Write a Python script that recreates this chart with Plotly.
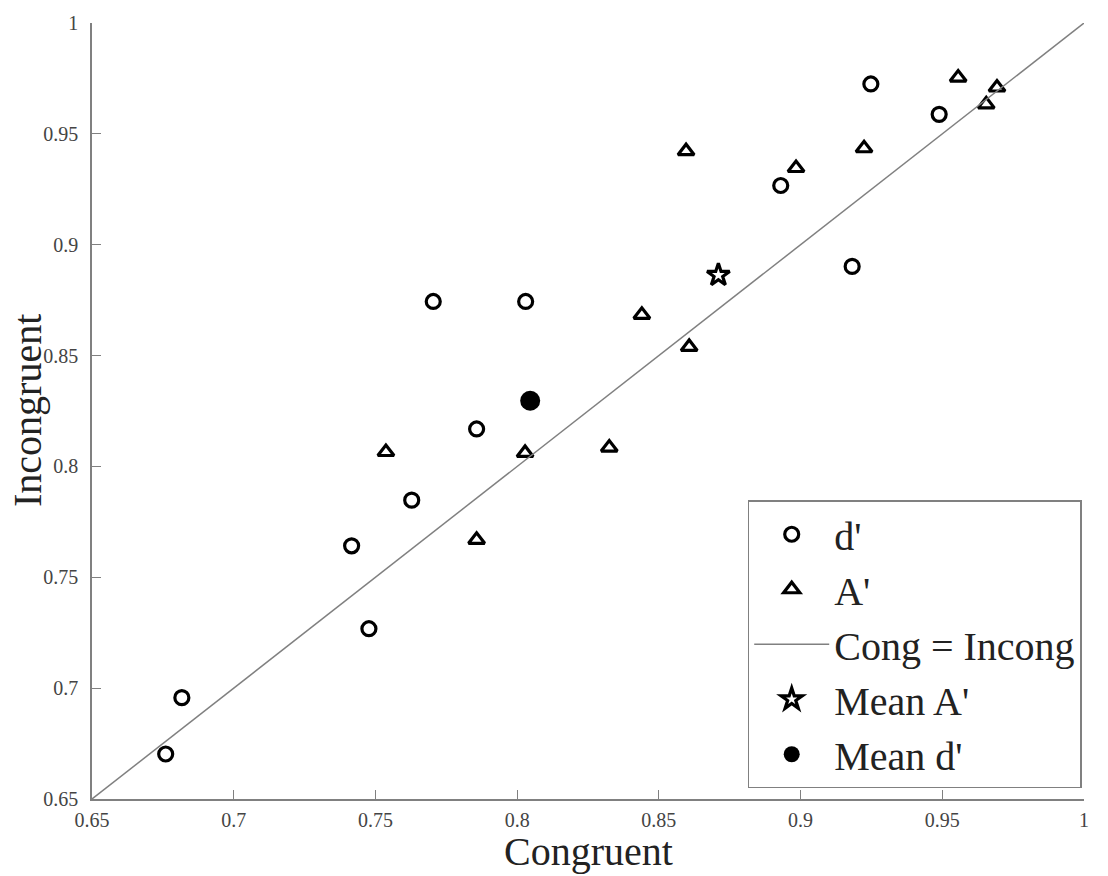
import plotly.graph_objects as go

# d' points (Congruent, Incongruent)
d_cong = [0.676, 0.6817, 0.7477, 0.7416, 0.7628, 0.7857, 0.7704, 0.803, 0.893, 0.9182, 0.9489, 0.9248]
d_incong = [0.6703, 0.6957, 0.7268, 0.7642, 0.7848, 0.8169, 0.8744, 0.8744, 0.9267, 0.8902, 0.9588, 0.9725]

# A' points
a_cong = [0.7537, 0.7857, 0.8028, 0.8325, 0.844, 0.8607, 0.8596, 0.8984, 0.9224, 0.9556, 0.9655, 0.9693]
a_incong = [0.8065, 0.7669, 0.8061, 0.8085, 0.8684, 0.8539, 0.9422, 0.9346, 0.9435, 0.9754, 0.9633, 0.9709]

# identity line
line_x = [0.65, 1.0]
line_y = [0.65, 1.0]

# means
mean_a = [0.871, 0.8863]
mean_d = [0.8046, 0.8296]

tick_vals = [0.65, 0.7, 0.75, 0.8, 0.85, 0.9, 0.95, 1.0]
tick_text = ["0.65", "0.7", "0.75", "0.8", "0.85", "0.9", "0.95", "1"]

SERIF = "Liberation Serif, Times New Roman, serif"

fig = go.Figure()
fig.add_trace(go.Scatter(x=d_cong, y=d_incong, mode="markers", name="d'",
                         marker=dict(symbol="circle-open", size=14, color="black",
                                     line=dict(width=3.2, color="black"))))
fig.add_trace(go.Scatter(x=a_cong, y=a_incong, mode="markers", name="A'",
                         marker=dict(symbol="triangle-up-open", size=14, color="black",
                                     line=dict(width=3.2, color="black"))))
fig.add_trace(go.Scatter(x=line_x, y=line_y, mode="lines", name="Cong = Incong",
                         line=dict(color="#808080", width=1.5)))
fig.add_trace(go.Scatter(x=[mean_a[0]], y=[mean_a[1]], mode="markers", name="Mean A'",
                         marker=dict(symbol="star-open", size=17, color="black",
                                     line=dict(width=3.2, color="black"))))
fig.add_trace(go.Scatter(x=[mean_d[0]], y=[mean_d[1]], mode="markers", name="Mean d'",
                         marker=dict(symbol="circle", size=20, color="black")))

axis_common = dict(
    range=[0.65, 1.0], tickvals=tick_vals, ticktext=tick_text,
    showgrid=False, zeroline=False, showline=True, linecolor="#808080", linewidth=1.5,
    ticks="inside", ticklen=9, tickcolor="#808080", tickwidth=1.2,
    tickfont=dict(family=SERIF, size=20, color="#444444"),
    mirror=False,
)

fig.update_layout(
    width=1108, height=876,
    margin=dict(l=92, r=24, t=18, b=77),
    paper_bgcolor="white", plot_bgcolor="white",
    xaxis=dict(**axis_common, ticklabelstandoff=2),
    yaxis=dict(**axis_common, ticklabelstandoff=8),
    showlegend=True,
    legend=dict(x=0.661, y=0.385, xanchor="left", yanchor="top",
                bgcolor="white", bordercolor="#808080", borderwidth=1.5,
                font=dict(family=SERIF, size=40, color="#222222"),
                itemwidth=75, tracegroupgap=0),
    annotations=[
        dict(text="Congruent", xref="paper", yref="paper", x=0.5, y=0,
             yshift=-52, xanchor="center", yanchor="middle", showarrow=False,
             font=dict(family=SERIF, size=40, color="#222222")),
        dict(text="Incongruent", xref="paper", yref="paper", x=0, y=0.5,
             xshift=-65, xanchor="center", yanchor="middle", textangle=-90, showarrow=False,
             font=dict(family=SERIF, size=40, color="#222222")),
    ],
)

fig.write_html("out.html")
